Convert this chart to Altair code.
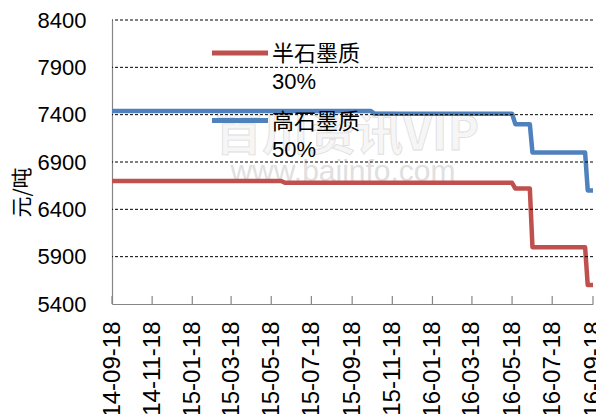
import altair as alt
import pandas as pd

# ---------------- data ----------------
series_names = ["半石墨质 30%", "高石墨质 50%"]
legend_line1 = ["半石墨质", "高石墨质"]
legend_line2 = ["30%", "50%"]
series_colors = ["#C0504D", "#4F81BD"]

red_dates = ["2014-09-18", "2015-06-02", "2015-06-08", "2016-05-18", "2016-05-23",
             "2016-06-14", "2016-06-18", "2016-09-06", "2016-09-10", "2016-09-18"]
red_values = [6700, 6700, 6680, 6680, 6620, 6620, 6000, 6000, 5600, 5600]

blue_dates = ["2014-09-18", "2015-10-16", "2015-10-22", "2016-05-18", "2016-05-23",
              "2016-06-14", "2016-06-18", "2016-09-06", "2016-09-10", "2016-09-18"]
blue_values = [7440, 7440, 7410, 7410, 7300, 7300, 7000, 7000, 6600, 6600]

y_ticks = [5400, 5900, 6400, 6900, 7400, 7900, 8400]
x_ticks = ["2014-09-18", "2014-11-18", "2015-01-18", "2015-03-18", "2015-05-18",
           "2015-07-18", "2015-09-18", "2015-11-18", "2016-01-18", "2016-03-18",
           "2016-05-18", "2016-07-18", "2016-09-18"]

y_title = "元/吨"
watermark_main = "百川资讯VIP"
watermark_sub = "www.baiinfo.com"

# ---------------- build ----------------
W, H = 481, 284


def dt(s):
    y, m, d = (int(v) for v in s.split("-"))
    return alt.DateTime(year=y, month=m, date=d)


lines_df = pd.DataFrame({
    "date": pd.to_datetime(red_dates + blue_dates),
    "value": red_values + blue_values,
    "series": [series_names[0]] * len(red_dates) + [series_names[1]] * len(blue_dates),
})
grid_df = pd.DataFrame({"value": y_ticks[1:]})
xt_df = pd.DataFrame({"date": pd.to_datetime(x_ticks)})
one = pd.DataFrame({"a": [0]})

x_enc = alt.X(
    "date:T",
    scale=alt.Scale(domain=[dt(x_ticks[0]), dt(x_ticks[-1])]),
    axis=alt.Axis(
        values=[dt(s) for s in x_ticks], format="%Y-%m-%d", labelAngle=270,
        ticks=False, grid=False, domainColor="#868686", domainWidth=1.2,
        labelFont="Liberation Sans", labelFontSize=24, labelColor="#000000",
        labelPadding=17, labelFlush=False, labelOverlap=False, labelBound=False,
        title=None,
    ),
)
y_enc = alt.Y(
    "value:Q",
    scale=alt.Scale(domain=[y_ticks[0], y_ticks[-1]], nice=False, zero=False),
    axis=alt.Axis(
        values=y_ticks, format="d", ticks=False, grid=False, domainColor="#868686",
        domainWidth=1.2,
        labelFont="Liberation Sans", labelFontSize=22, labelColor="#000000",
        labelPadding=26, labelFlush=False, labelOverlap=False,
        title=y_title, titleFont="Noto Sans CJK SC", titleFontSize=21,
        titleFontWeight="normal", titleColor="#000000",
        titleX=-90, titleY=172, titleAngle=270, titleAlign="center", titleBaseline="middle",
    ),
)

watermark = alt.Chart(one).mark_text(
    text=watermark_main, font="Noto Sans CJK SC", fontSize=47, fontWeight="bold",
    color="#f6f6f6", stroke="#dedede", strokeWidth=0.8, align="center", baseline="middle",
).encode(x=alt.value(235), y=alt.value(116))

watermark2 = alt.Chart(one).mark_text(
    text=watermark_sub, font="Liberation Sans", fontSize=30, color="#e0e0e0",
    align="center", baseline="middle",
).encode(x=alt.value(231), y=alt.value(152))

grid = alt.Chart(grid_df).mark_rule(
    color="#000000", strokeDash=[3, 2], strokeWidth=1
).encode(y=y_enc)

xticks = alt.Chart(xt_df).mark_rule(color="#868686", strokeWidth=1.2).encode(
    x=x_enc, y=alt.value(H - 8), y2=alt.value(H)
)

lines = alt.Chart(lines_df).mark_line(strokeWidth=4.5, strokeJoin="round").encode(
    x=x_enc, y=y_enc,
    color=alt.Color("series:N", scale=alt.Scale(domain=series_names, range=series_colors), legend=None),
)

legend_layers = []
for i in range(len(series_names)):
    off = i * 67.5
    legend_layers.append(
        alt.Chart(one).mark_rule(color=series_colors[i], strokeWidth=5).encode(
            x=alt.value(100), x2=alt.value(156), y=alt.value(33 + off)
        )
    )
    legend_layers.append(
        alt.Chart(one).mark_text(
            text=legend_line1[i], font="Noto Sans CJK SC", fontSize=22, color="#000000",
            align="left", baseline="middle",
        ).encode(x=alt.value(160), y=alt.value(34 + off))
    )
    legend_layers.append(
        alt.Chart(one).mark_text(
            text=legend_line2[i], font="Liberation Sans", fontSize=22, color="#000000",
            align="left", baseline="middle",
        ).encode(x=alt.value(160), y=alt.value(62 + off))
    )

chart = alt.layer(watermark, watermark2, lines, grid, xticks, *legend_layers).properties(
    width=W, height=H,
    autosize=alt.AutoSizeParams(type="none"),
    padding={"left": 104, "top": 12, "right": 3, "bottom": 118},
    background="white",
).configure_view(stroke=None)

chart.save("out.html", embed_options={"renderer": "svg", "actions": False})
